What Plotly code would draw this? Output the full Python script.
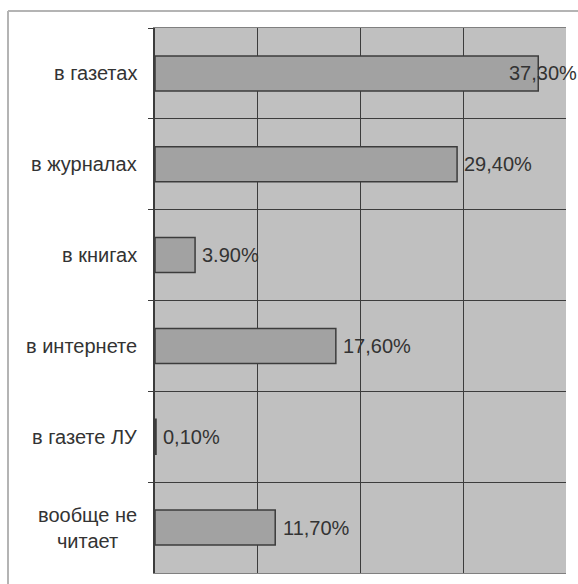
import plotly.graph_objects as go

categories = ["в газетах", "в журналах", "в книгах", "в интернете", "в газете ЛУ", "вообще не<br>читает"]
values = [37.3, 29.4, 3.9, 17.6, 0.1, 11.7]
value_labels = ["37,30%", "29,40%", "3.90%", "17,60%", "0,10%", "11,70%"]
label_shift = [-31, 5, 5, 5, 5, 6]

fig = go.Figure()
fig.add_trace(go.Bar(
    x=values, y=categories, orientation="h",
    marker=dict(color="#a2a2a2", line=dict(color="#3c3c3c", width=1.5)),
    hoverinfo="skip",
))

font = dict(family="Liberation Sans, Arial, sans-serif", size=20, color="#333333")
ann = []
for c, v, lab, sh in zip(categories, values, value_labels, label_shift):
    ann.append(dict(x=v, y=c, xref="x", yref="y", text=lab, showarrow=False,
                    xanchor="left", yanchor="middle", xshift=sh, font=font))
for c in categories:
    ann.append(dict(x=0, y=c, xref="paper", yref="y", text=c, showarrow=False,
                    xanchor="right", yanchor="middle", xshift=-16, align="center",
                    font=font))

top_border = (573 - 11) / 545
left_border = (8 - 155) / 411

fig.update_layout(
    width=578, height=584,
    margin=dict(l=155, r=12, t=28, b=11),
    paper_bgcolor="white", plot_bgcolor="#c0c0c0",
    bargap=0.615, showlegend=False,
    annotations=ann,
    shapes=[
        dict(type="line", xref="paper", yref="paper", x0=left_border, x1=1.03,
             y0=top_border, y1=top_border, line=dict(color="#b4b4b4", width=2)),
        dict(type="line", xref="paper", yref="paper", x0=left_border, x1=left_border,
             y0=-0.03, y1=top_border, line=dict(color="#b4b4b4", width=2)),
    ],
    xaxis=dict(range=[0, 40], dtick=10, showticklabels=False, showgrid=True,
               gridcolor="#3c3c3c", gridwidth=1, zeroline=False,
               showline=True, linecolor="#808080", mirror=True, ticks=""),
    yaxis=dict(type="category", categoryorder="array", categoryarray=categories,
               autorange="reversed", tickson="boundaries", showticklabels=False,
               showgrid=True, gridcolor="#3c3c3c", gridwidth=1,
               ticks="outside", ticklen=5, tickcolor="#3c3c3c",
               showline=True, linecolor="#3c3c3c", linewidth=1.5, mirror=False,
               zeroline=False),
)

fig.write_html("out.html")
